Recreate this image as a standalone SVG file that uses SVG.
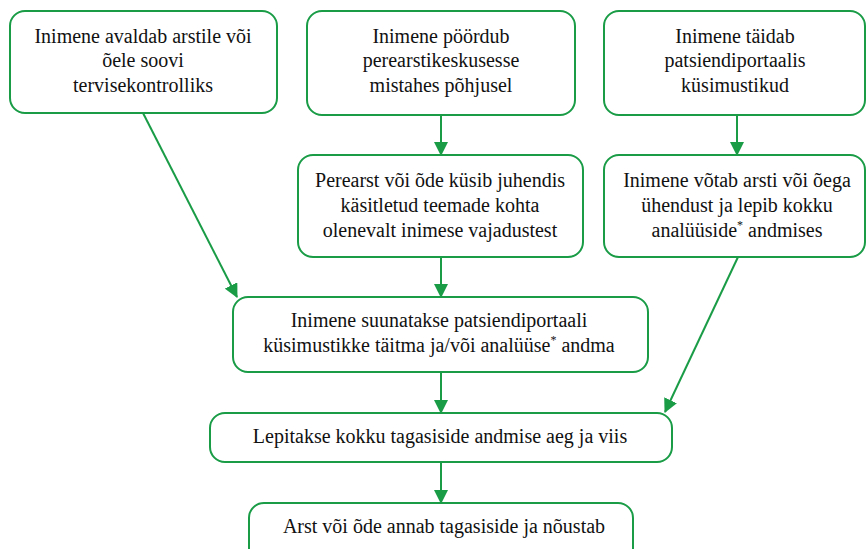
<svg xmlns="http://www.w3.org/2000/svg" width="866" height="549" viewBox="0 0 866 549">
<style>
.box{fill:#fff;stroke:#1a9c47;stroke-width:2}
.t{font-family:'Liberation Serif','Times New Roman',serif;font-size:20px;fill:#111;text-anchor:middle}
.c{stroke:#1a9c47;stroke-width:2;fill:none;marker-end:url(#ah)}
.sup{font-size:12px}
</style>
<defs>
<marker id="ah" markerWidth="14" markerHeight="14" viewBox="0 0 14 14" refX="13" refY="7" orient="auto" markerUnits="userSpaceOnUse">
<path d="M0,0 L14,7 L0,14 Z" fill="#1a9c47"/>
</marker>
</defs>
<rect width="866" height="549" fill="#fff"/>
<g id="connectors">
<line class="c" x1="441" y1="115" x2="441" y2="155"/>
<line class="c" x1="441" y1="257" x2="441" y2="297"/>
<line class="c" x1="737" y1="115" x2="737" y2="155"/>
<line class="c" x1="143" y1="113" x2="237" y2="297"/>
<line class="c" x1="738" y1="257" x2="665" y2="412"/>
<line class="c" x1="441" y1="372" x2="441" y2="413"/>
<line class="c" x1="441" y1="462" x2="441" y2="503"/>
</g>
<g id="n1">
<rect class="box" x="10" y="11" width="267" height="102" rx="15"/>
<text class="t"><tspan x="143" y="43">Inimene avaldab arstile või</tspan><tspan x="143" y="67">õele soovi</tspan><tspan x="143" y="92">tervisekontrolliks</tspan></text>
</g>
<g id="n2">
<rect class="box" x="307" y="11" width="268" height="104" rx="15"/>
<text class="t"><tspan x="441" y="43">Inimene pöördub</tspan><tspan x="441" y="67">perearstikeskusesse</tspan><tspan x="441" y="92">mistahes põhjusel</tspan></text>
</g>
<g id="n3">
<rect class="box" x="604" y="11" width="261" height="104" rx="15"/>
<text class="t"><tspan x="735" y="43">Inimene täidab</tspan><tspan x="735" y="67">patsiendiportaalis</tspan><tspan x="735" y="92">küsimustikud</tspan></text>
</g>
<g id="n4">
<rect class="box" x="298" y="155" width="285" height="102" rx="15"/>
<text class="t"><tspan x="440" y="187">Perearst või õde küsib juhendis</tspan><tspan x="440" y="212">käsitletud teemade kohta</tspan><tspan x="440" y="237">olenevalt inimese vajadustest</tspan></text>
</g>
<g id="n5">
<rect class="box" x="604" y="155" width="261" height="102" rx="15"/>
<text class="t"><tspan x="737" y="187">Inimene võtab arsti või õega</tspan><tspan x="737" y="212">ühendust ja lepib kokku</tspan><tspan x="737" y="237">analüüside<tspan class="sup" dy="-8">*</tspan><tspan dy="8"> andmises</tspan></tspan></text>
</g>
<g id="n6">
<rect class="box" x="233" y="297" width="415" height="75" rx="15"/>
<text class="t"><tspan x="439" y="327">Inimene suunatakse patsiendiportaali</tspan><tspan x="439" y="352">küsimustikke täitma ja/või analüüse<tspan class="sup" dy="-8">*</tspan><tspan dy="8"> andma</tspan></tspan></text>
</g>
<g id="n7">
<rect class="box" x="210" y="413" width="462" height="49" rx="15"/>
<text class="t" x="440" y="443">Lepitakse kokku tagasiside andmise aeg ja viis</text>
</g>
<g id="n8">
<rect class="box" x="249" y="503" width="384" height="60" rx="15"/>
<text class="t" x="444" y="533">Arst või õde annab tagasiside ja nõustab</text>
</g>
</svg>
